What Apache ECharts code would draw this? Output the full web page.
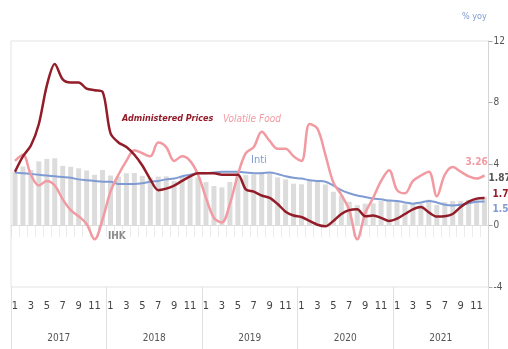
<!DOCTYPE html>
<html>
<head>
<meta charset="utf-8">
<script src="https://cdn.jsdelivr.net/npm/echarts@6/dist/echarts.min.js"></script>
<style>
html,body{margin:0;padding:0;background:#fff;}
#chart{width:508px;height:349px;}
</style>
</head>
<body>
<div id="chart"></div>
<script>
// Inflation components, % yoy, monthly Jan 2017 - Dec 2021
const years = ['2017', '2018', '2019', '2020', '2021'];
const months = ['1', '2', '3', '4', '5', '6', '7', '8', '9', '10', '11', '12'];

// Headline CPI (IHK), bars
const ihk = [
  3.49, 3.83, 3.61, 4.17, 4.33, 4.37, 3.88, 3.82, 3.72, 3.58, 3.30, 3.61,
  3.25, 3.18, 3.40, 3.41, 3.23, 3.12, 3.18, 3.20, 2.88, 3.16, 3.23, 3.13,
  2.82, 2.57, 2.48, 2.83, 3.32, 3.28, 3.32, 3.49, 3.39, 3.13, 3.00, 2.72,
  2.68, 2.98, 2.96, 2.67, 2.19, 1.96, 1.54, 1.32, 1.42, 1.44, 1.59, 1.68,
  1.55, 1.38, 1.37, 1.42, 1.68, 1.33, 1.52, 1.59, 1.60, 1.66, 1.75, 1.87
];

// Core inflation (Inti)
const inti = [
  3.45, 3.40, 3.35, 3.30, 3.25, 3.20, 3.15, 3.10, 3.00, 2.95, 2.90, 2.85,
  2.85, 2.70, 2.70, 2.70, 2.75, 2.85, 2.90, 3.00, 3.05, 3.20, 3.30, 3.40,
  3.40, 3.45, 3.50, 3.50, 3.50, 3.45, 3.40, 3.40, 3.45, 3.35, 3.20, 3.10,
  3.05, 2.95, 2.90, 2.85, 2.60, 2.30, 2.10, 1.95, 1.85, 1.75, 1.70, 1.62,
  1.60, 1.50, 1.42, 1.50, 1.60, 1.50, 1.35, 1.30, 1.35, 1.45, 1.55, 1.56
];

// Administered prices
const administered = [
  3.50, 4.50, 5.20, 6.60, 9.10, 10.50, 9.50, 9.30, 9.30, 8.90, 8.80, 8.70,
  6.00, 5.40, 5.10, 4.60, 3.90, 3.00, 2.30, 2.40, 2.60, 2.90, 3.20, 3.40,
  3.40, 3.40, 3.30, 3.30, 3.30, 2.35, 2.20, 1.95, 1.80, 1.40, 0.90, 0.65,
  0.55, 0.30, 0.05, -0.05, 0.30, 0.75, 1.00, 1.05, 0.60, 0.65, 0.50, 0.30,
  0.45, 0.75, 1.05, 1.20, 0.85, 0.58, 0.60, 0.75, 1.20, 1.55, 1.75, 1.79
];

// Volatile food
const volatileFood = [
  4.20, 4.60, 3.30, 2.60, 2.90, 2.60, 1.70, 1.00, 0.60, 0.10, -0.90, 0.40,
  2.20, 3.30, 4.20, 4.90, 4.70, 4.50, 5.40, 5.10, 4.20, 4.50, 4.20, 3.30,
  1.80, 0.50, 0.20, 1.40, 3.30, 4.70, 5.10, 6.10, 5.50, 5.00, 5.00, 4.50,
  4.20, 6.60, 6.30, 4.60, 2.80, 2.00, 1.00, -0.90, 0.80, 1.80, 2.90, 3.60,
  2.30, 2.10, 2.90, 3.25, 3.50, 1.90, 3.30, 3.80, 3.50, 3.20, 3.05, 3.26
];

const yTicks = { min: -4, max: 12, interval: 4 };

const categories = [];
years.forEach(y => months.forEach(m => categories.push(y + '-' + m)));

const FONT = "'Liberation Sans Narrow', 'DejaVu Sans Condensed', sans-serif";
const C_AP = '#931c29';
const C_VF = '#f29aa2';
const C_CORE = '#7f9bd3';
const C_BAR = '#dcdcdc';

const last = ihk.length - 1;
const barData = ihk.map((v, i) => i === last ? {
  value: v,
  label: {
    show: true, position: 'top', distance: 0, offset: [15, -13],
    formatter: p => p.value.toFixed(2),
    color: '#555', fontFamily: FONT, fontSize: 10, fontWeight: 'bold'
  }
} : v);

const chart = echarts.init(document.getElementById('chart'), null, { renderer: 'canvas' });
chart.setOption({
  animation: false,
  backgroundColor: '#fff',
  grid: {
    left: 11, right: 17, top: 41, bottom: 62,
    show: true, borderColor: '#e3e3e3', borderWidth: 1
  },
  xAxis: [
    {
      type: 'category', data: categories, position: 'bottom',
      boundaryGap: true,
      axisLine: { show: true, lineStyle: { color: '#dedede' } },
      axisTick: { show: true, interval: 0, length: 12, lineStyle: { color: '#d8d8d8', type: 'dotted' } },
      axisLabel: {
        interval: 1, margin: 14, color: '#444', fontFamily: FONT, fontSize: 11,
        formatter: v => v.split('-')[1]
      },
      splitLine: { show: false }
    },
    {
      type: 'category', data: years, position: 'bottom',
      boundaryGap: true,
      axisLine: { show: false },
      axisTick: { show: true, interval: 0, length: 62, lineStyle: { color: '#e0e0e0' } },
      axisLabel: { margin: 46, color: '#555', fontFamily: FONT, fontSize: 10 },
      splitLine: { show: false }
    }
  ],
  yAxis: {
    type: 'value', position: 'right',
    min: yTicks.min, max: yTicks.max, interval: yTicks.interval,
    axisLine: { show: true, lineStyle: { color: '#d5d5d5' } },
    axisTick: { show: true, length: 4, lineStyle: { color: '#aaa' } },
    axisLabel: { margin: 5, color: '#555', fontFamily: FONT, fontSize: 10 },
    splitLine: { show: false }
  },
  series: [
    {
      name: 'IHK', type: 'bar', data: barData, barWidth: 5,
      itemStyle: { color: C_BAR }, z: 1
    },
    {
      name: 'Inti', type: 'line', data: inti, showSymbol: false, smooth: 0.3,
      lineStyle: { color: C_CORE, width: 2 }, z: 3,
      endLabel: {
        show: true, distance: 0, align: 'left', offset: [8, 8],
        formatter: p => p.value.toFixed(2),
        color: C_CORE, fontFamily: FONT, fontSize: 10, fontWeight: 'bold'
      }
    },
    {
      name: 'Volatile Food', type: 'line', data: volatileFood, showSymbol: false, smooth: 0.35,
      lineStyle: { color: C_VF, width: 2.5 }, z: 4,
      endLabel: {
        show: true, distance: 0, align: 'left', offset: [-19, -13],
        formatter: p => p.value.toFixed(2),
        color: C_VF, fontFamily: FONT, fontSize: 10, fontWeight: 'bold'
      }
    },
    {
      name: 'Administered Prices', type: 'line', data: administered, showSymbol: false, smooth: 0.3,
      lineStyle: { color: C_AP, width: 2.5 }, z: 5,
      endLabel: {
        show: true, distance: 0, align: 'left', offset: [8, -4],
        formatter: p => p.value.toFixed(2),
        color: C_AP, fontFamily: FONT, fontSize: 10, fontWeight: 'bold'
      }
    }
  ],
  graphic: [
    { type: 'text', left: 462, top: 12,
      style: { text: '% yoy', fill: '#7f9bd3', font: '9px ' + FONT } },
    { type: 'text', left: 122, top: 114,
      style: { text: 'Administered Prices', fill: C_AP, font: 'italic bold 9px ' + FONT } },
    { type: 'text', left: 223, top: 114,
      style: { text: 'Volatile Food', fill: C_VF, font: 'italic 10px ' + FONT } },
    { type: 'text', left: 251, top: 155,
      style: { text: 'Inti', fill: C_CORE, font: '11px ' + FONT } },
    { type: 'text', left: 108, top: 231,
      style: { text: 'IHK', fill: '#888', font: 'bold 10px ' + FONT } }
  ]
});
</script>
</body>
</html>
